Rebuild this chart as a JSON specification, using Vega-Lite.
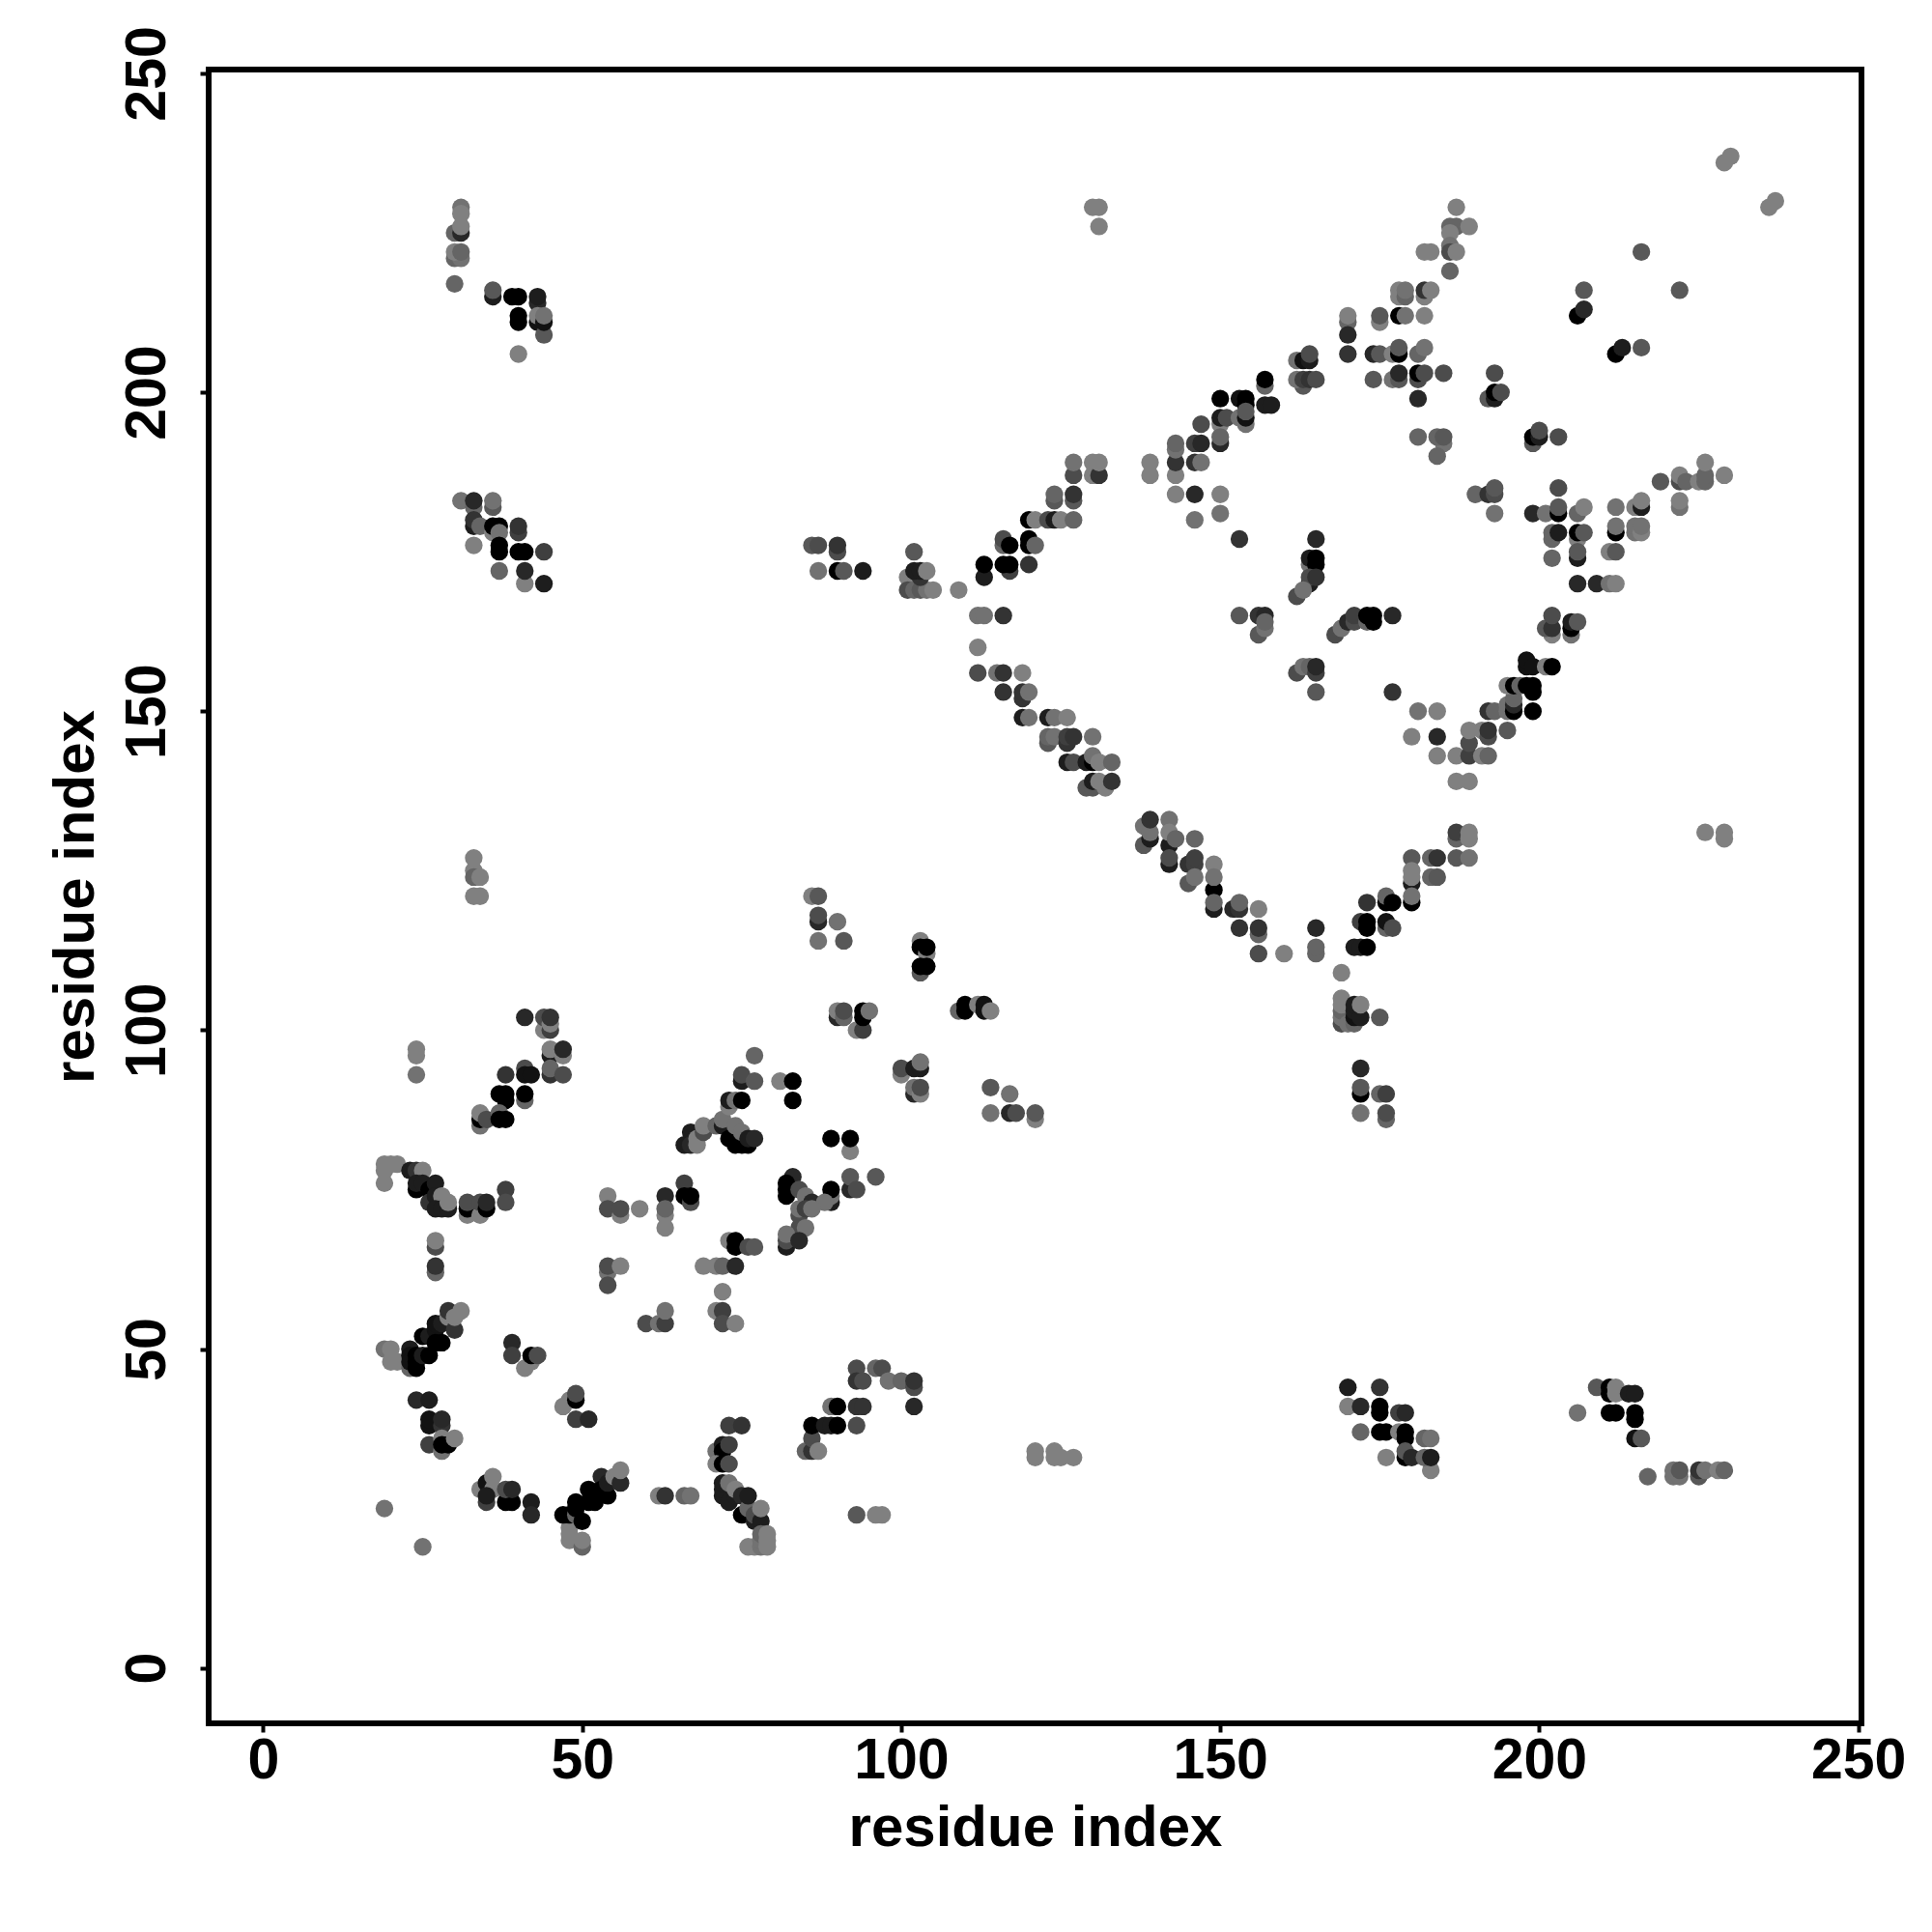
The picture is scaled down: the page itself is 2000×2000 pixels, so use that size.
{"$schema":"https://vega.github.io/schema/vega-lite/v6.json","width":1711,"height":1712,"autosize":{"type":"none"},"padding":{"left":216,"top":72,"right":73,"bottom":216},"background":"white","view":{"stroke":"#000000","strokeWidth":6,"fill":"white"},
"data":{"values":[
{"x":41,"y":102,"s":0.15},{"x":44,"y":100,"s":0.5},{"x":44,"y":102,"s":0.3},{"x":45,"y":100,"s":0.25},{"x":45,"y":101,"s":0.5},{"x":45,"y":102,"s":0.2},{"x":45,"y":96,"s":0.1},{"x":45,"y":97,"s":0.5},{"x":47,"y":96,"s":0.5},{"x":47,"y":97,"s":0.15},{"x":45,"y":93,"s":0.2},{"x":45,"y":94,"s":0.4},{"x":47,"y":93,"s":0.3},{"x":24,"y":97,"s":0.5},{"x":24,"y":96,"s":0.55},{"x":24,"y":93,"s":0.45},{"x":38,"y":93,"s":0.2},{"x":41,"y":94,"s":0.3},{"x":41,"y":93,"s":0.05},{"x":42,"y":93,"s":0.05},{"x":37,"y":90,"s":0},{"x":38,"y":90,"s":0},{"x":38,"y":89,"s":0},{"x":41,"y":89,"s":0.4},{"x":41,"y":90,"s":0},{"x":34,"y":85,"s":0.45},{"x":34,"y":86,"s":0},{"x":34,"y":87,"s":0.5},{"x":35,"y":86,"s":0.3},{"x":37,"y":87,"s":0.4},{"x":37,"y":86,"s":0},{"x":38,"y":86,"s":0},
{"x":19,"y":76,"s":0.5},{"x":19,"y":78,"s":0.5},{"x":19,"y":79,"s":0.5},{"x":20,"y":79,"s":0.5},{"x":21,"y":79,"s":0.5},{"x":23,"y":78,"s":0.1},{"x":24,"y":78,"s":0.2},{"x":25,"y":78,"s":0.5},{"x":24,"y":75,"s":0},{"x":24,"y":76,"s":0.1},{"x":25,"y":76,"s":0.1},{"x":26,"y":75,"s":0},{"x":26,"y":73,"s":0.2},{"x":27,"y":76,"s":0.1},{"x":27,"y":74,"s":0.1},{"x":28,"y":74,"s":0.5},{"x":27,"y":72,"s":0.1},{"x":28,"y":72,"s":0.1},{"x":29,"y":72,"s":0.1},{"x":29,"y":73,"s":0.5},{"x":32,"y":71,"s":0.5},{"x":32,"y":72,"s":0},{"x":32,"y":73,"s":0.3},{"x":34,"y":71,"s":0.5},{"x":34,"y":73,"s":0.3},{"x":35,"y":72,"s":0},{"x":35,"y":73,"s":0.15},{"x":38,"y":75,"s":0.25},{"x":38,"y":73,"s":0.3},{"x":27,"y":66,"s":0.3},{"x":27,"y":67,"s":0.5},{"x":27,"y":62,"s":0.4},{"x":27,"y":63,"s":0.2},
{"x":54,"y":74,"s":0.5},{"x":54,"y":72,"s":0.3},{"x":56,"y":71,"s":0.5},{"x":56,"y":72,"s":0.3},{"x":59,"y":72,"s":0.5},{"x":63,"y":74,"s":0.15},{"x":63,"y":69,"s":0.5},{"x":63,"y":71,"s":0.5},{"x":63,"y":72,"s":0.4},{"x":66,"y":76,"s":0.25},{"x":66,"y":74,"s":0},{"x":67,"y":73,"s":0.3},{"x":67,"y":74,"s":0},{"x":73,"y":67,"s":0.5},{"x":74,"y":66,"s":0},{"x":74,"y":67,"s":0},{"x":76,"y":66,"s":0.3},{"x":69,"y":63,"s":0.5},{"x":71,"y":63,"s":0.5},{"x":72,"y":63,"s":0.4},{"x":74,"y":63,"s":0.15},{"x":72,"y":59,"s":0.5},{"x":71,"y":56,"s":0.5},{"x":72,"y":56,"s":0.25},{"x":72,"y":54,"s":0.3},{"x":74,"y":54,"s":0.5},{"x":54,"y":62,"s":0.45},{"x":54,"y":63,"s":0.3},{"x":56,"y":63,"s":0.5},{"x":54,"y":60,"s":0.3},{"x":60,"y":54,"s":0.3},{"x":62,"y":54,"s":0.45},{"x":63,"y":54,"s":0.25},{"x":63,"y":56,"s":0.45},
{"x":19,"y":50,"s":0.45},{"x":20,"y":50,"s":0.5},{"x":20,"y":48,"s":0.5},{"x":21,"y":48,"s":0.5},{"x":23,"y":47,"s":0.4},{"x":23,"y":50,"s":0.1},{"x":23,"y":49,"s":0.05},{"x":23,"y":48,"s":0.05},{"x":24,"y":49,"s":0},{"x":24,"y":48,"s":0},{"x":24,"y":47,"s":0},{"x":25,"y":52,"s":0},{"x":25,"y":49,"s":0.1},{"x":26,"y":49,"s":0},{"x":26,"y":52,"s":0.1},{"x":27,"y":53,"s":0.05},{"x":27,"y":51,"s":0},{"x":27,"y":54,"s":0.05},{"x":28,"y":51,"s":0},{"x":28,"y":54,"s":0.1},{"x":29,"y":55,"s":0.5},{"x":29,"y":56,"s":0.2},{"x":30,"y":53,"s":0.2},{"x":30,"y":55,"s":0.5},{"x":31,"y":56,"s":0.5},{"x":39,"y":51,"s":0.15},{"x":39,"y":49,"s":0.25},{"x":41,"y":47,"s":0.5},{"x":42,"y":48,"s":0.5},{"x":42,"y":49,"s":0},{"x":43,"y":49,"s":0.3},
{"x":24,"y":42,"s":0.15},{"x":26,"y":42,"s":0.1},{"x":26,"y":38,"s":0.05},{"x":26,"y":39,"s":0.05},{"x":28,"y":38,"s":0.2},{"x":28,"y":39,"s":0.15},{"x":26,"y":35,"s":0.25},{"x":28,"y":34,"s":0.45},{"x":28,"y":36,"s":0.5},{"x":28,"y":35,"s":0},{"x":29,"y":35,"s":0},{"x":30,"y":36,"s":0.5},{"x":47,"y":41,"s":0.5},{"x":48,"y":42,"s":0.5},{"x":49,"y":42,"s":0},{"x":49,"y":43,"s":0.3},{"x":49,"y":39,"s":0.25},{"x":51,"y":39,"s":0.15},
{"x":34,"y":28,"s":0.5},{"x":35,"y":29,"s":0.05},{"x":36,"y":28,"s":0.5},{"x":36,"y":30,"s":0.5},{"x":35,"y":26,"s":0.25},{"x":35,"y":27,"s":0.1},{"x":38,"y":26,"s":0},{"x":39,"y":26,"s":0},{"x":38,"y":28,"s":0.3},{"x":39,"y":28,"s":0.15},{"x":42,"y":26,"s":0.1},{"x":42,"y":24,"s":0.15},{"x":19,"y":25,"s":0.45},{"x":25,"y":19,"s":0.45},
{"x":48,"y":22,"s":0.5},{"x":48,"y":21,"s":0.5},{"x":48,"y":20,"s":0.5},{"x":50,"y":19,"s":0.4},{"x":50,"y":20,"s":0.5},{"x":47,"y":24,"s":0},{"x":48,"y":24,"s":0},{"x":49,"y":24,"s":0.4},{"x":49,"y":25,"s":0},{"x":49,"y":26,"s":0},{"x":50,"y":23,"s":0},{"x":51,"y":28,"s":0},{"x":51,"y":26,"s":0},{"x":52,"y":26,"s":0},{"x":53,"y":30,"s":0.15},{"x":53,"y":28,"s":0},{"x":54,"y":27,"s":0},{"x":54,"y":29,"s":0.1},{"x":55,"y":30,"s":0.5},{"x":56,"y":29,"s":0.15},{"x":56,"y":31,"s":0.5},
{"x":62,"y":27,"s":0.5},{"x":63,"y":27,"s":0.2},{"x":66,"y":27,"s":0.4},{"x":67,"y":27,"s":0.45},{"x":73,"y":38,"s":0.25},{"x":75,"y":38,"s":0.2},{"x":71,"y":34,"s":0.45},{"x":72,"y":35,"s":0.1},{"x":72,"y":34,"s":0},{"x":73,"y":35,"s":0.25},{"x":71,"y":32,"s":0.5},{"x":72,"y":32,"s":0},{"x":73,"y":32,"s":0.3},{"x":72,"y":27,"s":0.1},{"x":72,"y":28,"s":0.1},{"x":72,"y":29,"s":0.1},{"x":73,"y":26,"s":0.1},{"x":73,"y":29,"s":0.45},{"x":74,"y":27,"s":0.1},{"x":74,"y":28,"s":0.5},{"x":75,"y":24,"s":0},{"x":75,"y":27,"s":0.15},{"x":76,"y":25,"s":0.4},{"x":76,"y":27,"s":0.1},{"x":77,"y":23,"s":0.1},{"x":77,"y":24,"s":0.3},{"x":78,"y":23,"s":0.1},{"x":78,"y":25,"s":0.5},{"x":76,"y":19,"s":0.5},{"x":77,"y":19,"s":0.5},{"x":78,"y":19,"s":0.45},{"x":78,"y":20,"s":0.45},{"x":78,"y":21,"s":0.4},{"x":79,"y":19,"s":0.5},{"x":79,"y":20,"s":0.5},{"x":79,"y":21,"s":0.5},
{"x":85,"y":34,"s":0.4},{"x":86,"y":34,"s":0.2},{"x":86,"y":36,"s":0.3},{"x":86,"y":38,"s":0},{"x":87,"y":34,"s":0.5},{"x":88,"y":38,"s":0.1},{"x":89,"y":38,"s":0.1},{"x":89,"y":41,"s":0.45},{"x":90,"y":38,"s":0},{"x":90,"y":41,"s":0},{"x":93,"y":38,"s":0.3},{"x":93,"y":47,"s":0.3},{"x":93,"y":45,"s":0.2},{"x":94,"y":45,"s":0.3},{"x":93,"y":41,"s":0.2},{"x":94,"y":41,"s":0.2},{"x":96,"y":47,"s":0.4},{"x":97,"y":47,"s":0.3},{"x":98,"y":45,"s":0.45},{"x":100,"y":45,"s":0.4},{"x":102,"y":44,"s":0.3},{"x":102,"y":45,"s":0.2},{"x":102,"y":41,"s":0.15},{"x":93,"y":24,"s":0.35},{"x":96,"y":24,"s":0.5},{"x":97,"y":24,"s":0.5},{"x":121,"y":33,"s":0.5},{"x":121,"y":34,"s":0.5},{"x":124,"y":33,"s":0.5},{"x":124,"y":34,"s":0.5},{"x":125,"y":33,"s":0.5},{"x":127,"y":33,"s":0.5},
{"x":66,"y":82,"s":0.1},{"x":67,"y":84,"s":0.1},{"x":67,"y":82,"s":0.15},{"x":68,"y":83,"s":0.5},{"x":68,"y":82,"s":0.5},{"x":69,"y":84,"s":0.3},{"x":69,"y":85,"s":0.5},{"x":71,"y":85,"s":0.4},{"x":72,"y":85,"s":0.1},{"x":72,"y":86,"s":0.45},{"x":73,"y":83,"s":0},{"x":73,"y":88,"s":0.5},{"x":73,"y":89,"s":0.1},{"x":74,"y":89,"s":0.45},{"x":75,"y":89,"s":0},{"x":74,"y":82,"s":0},{"x":75,"y":82,"s":0},{"x":76,"y":82,"s":0},{"x":74,"y":85,"s":0.45},{"x":75,"y":84,"s":0.45},{"x":76,"y":83,"s":0.1},{"x":77,"y":83,"s":0.15},{"x":75,"y":92,"s":0.1},{"x":75,"y":93,"s":0.3},{"x":77,"y":92,"s":0.35},{"x":77,"y":96,"s":0.4},{"x":81,"y":92,"s":0.5},{"x":83,"y":92,"s":0},{"x":83,"y":89,"s":0},{"x":89,"y":83,"s":0},{"x":92,"y":81,"s":0.5},{"x":92,"y":83,"s":0},
{"x":86,"y":121,"s":0.5},{"x":87,"y":121,"s":0.35},{"x":87,"y":117,"s":0.15},{"x":87,"y":118,"s":0.3},{"x":90,"y":117,"s":0.45},{"x":87,"y":114,"s":0.45},{"x":91,"y":114,"s":0.35},{"x":103,"y":114,"s":0.5},{"x":103,"y":113,"s":0},{"x":104,"y":112,"s":0.5},{"x":104,"y":113,"s":0},{"x":103,"y":109,"s":0.35},{"x":103,"y":110,"s":0},{"x":104,"y":110,"s":0},{"x":90,"y":102,"s":0.15},{"x":90,"y":103,"s":0.5},{"x":91,"y":102,"s":0.4},{"x":91,"y":103,"s":0.3},{"x":93,"y":100,"s":0.5},{"x":94,"y":100,"s":0.25},{"x":94,"y":102,"s":0},{"x":94,"y":103,"s":0},{"x":95,"y":103,"s":0.45},{"x":109,"y":103,"s":0.4},{"x":110,"y":103,"s":0},{"x":110,"y":104,"s":0},{"x":112,"y":104,"s":0.5},{"x":113,"y":103,"s":0.05},{"x":113,"y":104,"s":0.05},{"x":114,"y":103,"s":0.5},
{"x":100,"y":93,"s":0.5},{"x":100,"y":94,"s":0.3},{"x":102,"y":94,"s":0.1},{"x":103,"y":94,"s":0.1},{"x":103,"y":95,"s":0.45},{"x":102,"y":90,"s":0.15},{"x":102,"y":91,"s":0.45},{"x":103,"y":90,"s":0.5},{"x":103,"y":91,"s":0.3},{"x":114,"y":91,"s":0.35},{"x":117,"y":90,"s":0.45},{"x":114,"y":87,"s":0.45},{"x":117,"y":87,"s":0.15},{"x":118,"y":87,"s":0.3},{"x":121,"y":86,"s":0.5},{"x":121,"y":87,"s":0.35},
{"x":92,"y":75,"s":0.15},{"x":92,"y":77,"s":0.35},{"x":93,"y":75,"s":0.3},{"x":96,"y":77,"s":0.35},{"x":89,"y":73,"s":0.1},{"x":89,"y":74,"s":0.45},{"x":89,"y":75,"s":0},{"x":83,"y":77,"s":0.15},{"x":82,"y":74,"s":0},{"x":82,"y":75,"s":0},{"x":82,"y":76,"s":0},{"x":84,"y":75,"s":0.3},{"x":85,"y":74,"s":0.45},{"x":86,"y":73,"s":0.15},{"x":88,"y":73,"s":0.45},{"x":84,"y":71,"s":0.3},{"x":84,"y":72,"s":0.45},{"x":85,"y":72,"s":0.25},{"x":86,"y":72,"s":0.45},{"x":84,"y":69,"s":0.3},{"x":85,"y":69,"s":0.45},{"x":82,"y":66,"s":0.1},{"x":82,"y":67,"s":0.3},{"x":82,"y":68,"s":0.45},{"x":84,"y":67,"s":0.15},{"x":77,"y":66,"s":0.35},
{"x":31,"y":229,"s":0.45},{"x":31,"y":228,"s":0.5},{"x":30,"y":225,"s":0.4},{"x":31,"y":225,"s":0.15},{"x":31,"y":226,"s":0.5},{"x":30,"y":221,"s":0.4},{"x":31,"y":221,"s":0.45},{"x":30,"y":222,"s":0.5},{"x":31,"y":222,"s":0.4},{"x":30,"y":217,"s":0.4},{"x":36,"y":215,"s":0.1},{"x":36,"y":216,"s":0.35},{"x":39,"y":215,"s":0},{"x":40,"y":215,"s":0},{"x":43,"y":214,"s":0.15},{"x":43,"y":215,"s":0.1},{"x":40,"y":211,"s":0},{"x":40,"y":212,"s":0},{"x":43,"y":211,"s":0.05},{"x":43,"y":212,"s":0.5},{"x":44,"y":209,"s":0.35},{"x":44,"y":211,"s":0.05},{"x":44,"y":212,"s":0.45},{"x":40,"y":206,"s":0.5},
{"x":31,"y":183,"s":0.45},{"x":33,"y":182,"s":0.4},{"x":33,"y":183,"s":0.15},{"x":36,"y":182,"s":0.35},{"x":36,"y":183,"s":0.45},{"x":33,"y":179,"s":0.1},{"x":33,"y":180,"s":0.2},{"x":34,"y":179,"s":0.4},{"x":36,"y":178,"s":0.5},{"x":36,"y":179,"s":0},{"x":37,"y":179,"s":0},{"x":37,"y":178,"s":0.45},{"x":40,"y":178,"s":0.25},{"x":40,"y":179,"s":0.2},{"x":33,"y":176,"s":0.5},{"x":37,"y":175,"s":0},{"x":37,"y":176,"s":0},{"x":40,"y":175,"s":0},{"x":41,"y":175,"s":0},{"x":44,"y":175,"s":0.25},{"x":37,"y":172,"s":0.4},{"x":41,"y":170,"s":0.5},{"x":41,"y":172,"s":0.15},{"x":44,"y":170,"s":0.1},{"x":33,"y":127,"s":0.5},{"x":33,"y":125,"s":0.5},{"x":33,"y":124,"s":0.4},{"x":34,"y":124,"s":0.5},{"x":33,"y":121,"s":0.5},{"x":34,"y":121,"s":0.5},{"x":130,"y":229,"s":0.5},{"x":131,"y":229,"s":0.5},{"x":131,"y":226,"s":0.5},
{"x":127,"y":187,"s":0.3},{"x":127,"y":189,"s":0.45},{"x":130,"y":187,"s":0.5},{"x":130,"y":189,"s":0.5},{"x":131,"y":187,"s":0.2},{"x":131,"y":189,"s":0.5},{"x":139,"y":187,"s":0.5},{"x":139,"y":189,"s":0.5},{"x":143,"y":187,"s":0.5},{"x":143,"y":189,"s":0.2},{"x":143,"y":191,"s":0.45},{"x":143,"y":192,"s":0.4},{"x":146,"y":189,"s":0.2},{"x":147,"y":189,"s":0.45},{"x":146,"y":192,"s":0.25},{"x":147,"y":192,"s":0.15},{"x":147,"y":195,"s":0.3},{"x":143,"y":184,"s":0.5},{"x":146,"y":184,"s":0.15},{"x":150,"y":184,"s":0.5},{"x":146,"y":180,"s":0.45},{"x":150,"y":181,"s":0.45},{"x":153,"y":177,"s":0.2},
{"x":124,"y":183,"s":0.35},{"x":124,"y":184,"s":0.4},{"x":127,"y":183,"s":0.35},{"x":127,"y":184,"s":0.2},{"x":120,"y":180,"s":0},{"x":121,"y":180,"s":0.5},{"x":123,"y":180,"s":0.3},{"x":124,"y":180,"s":0.1},{"x":125,"y":180,"s":0.5},{"x":127,"y":180,"s":0.4},{"x":116,"y":176,"s":0.4},{"x":116,"y":177,"s":0.3},{"x":117,"y":176,"s":0},{"x":120,"y":177,"s":0},{"x":120,"y":176,"s":0},{"x":121,"y":176,"s":0.4},{"x":113,"y":171,"s":0.1},{"x":113,"y":173,"s":0},{"x":117,"y":172,"s":0.25},{"x":116,"y":173,"s":0},{"x":117,"y":173,"s":0},{"x":120,"y":173,"s":0.2},
{"x":86,"y":176,"s":0.35},{"x":87,"y":176,"s":0.3},{"x":90,"y":175,"s":0.3},{"x":90,"y":176,"s":0.2},{"x":87,"y":172,"s":0.45},{"x":90,"y":172,"s":0},{"x":91,"y":172,"s":0.35},{"x":94,"y":172,"s":0.1},{"x":102,"y":175,"s":0.35},{"x":101,"y":171,"s":0.5},{"x":101,"y":169,"s":0.3},{"x":102,"y":169,"s":0.4},{"x":103,"y":169,"s":0.35},{"x":104,"y":169,"s":0.45},{"x":105,"y":169,"s":0.5},{"x":103,"y":171,"s":0.2},{"x":102,"y":172,"s":0.1},{"x":103,"y":172,"s":0.1},{"x":104,"y":172,"s":0.5},{"x":109,"y":169,"s":0.5},{"x":112,"y":165,"s":0.45},{"x":113,"y":165,"s":0.45},{"x":116,"y":165,"s":0.2},{"x":112,"y":160,"s":0.5},
{"x":112,"y":156,"s":0.3},{"x":115,"y":156,"s":0.45},{"x":116,"y":156,"s":0.2},{"x":119,"y":156,"s":0.5},{"x":116,"y":153,"s":0.2},{"x":119,"y":152,"s":0.2},{"x":119,"y":153,"s":0.2},{"x":120,"y":153,"s":0.45},{"x":119,"y":149,"s":0.1},{"x":120,"y":149,"s":0.45},{"x":123,"y":149,"s":0.1},{"x":124,"y":149,"s":0.45},{"x":126,"y":149,"s":0.5},{"x":123,"y":145,"s":0.35},{"x":123,"y":146,"s":0.4},{"x":124,"y":146,"s":0.45},{"x":126,"y":145,"s":0.2},{"x":126,"y":146,"s":0.25},{"x":127,"y":146,"s":0.2},{"x":130,"y":146,"s":0.45},{"x":126,"y":142,"s":0.1},{"x":127,"y":142,"s":0.3},{"x":129,"y":142,"s":0.1},{"x":130,"y":142,"s":0},{"x":130,"y":143,"s":0.45},{"x":131,"y":142,"s":0.5},{"x":133,"y":142,"s":0.4},{"x":129,"y":138,"s":0.35},{"x":130,"y":138,"s":0.35},{"x":130,"y":139,"s":0.1},{"x":131,"y":139,"s":0.5},{"x":132,"y":138,"s":0.5},{"x":133,"y":139,"s":0.2},
{"x":138,"y":129,"s":0.35},{"x":138,"y":132,"s":0.45},{"x":139,"y":130,"s":0.1},{"x":139,"y":131,"s":0.45},{"x":139,"y":133,"s":0.2},{"x":142,"y":133,"s":0.45},{"x":142,"y":129,"s":0.1},{"x":142,"y":131,"s":0.5},{"x":143,"y":130,"s":0.4},{"x":146,"y":130,"s":0.4},{"x":142,"y":126,"s":0.1},{"x":142,"y":127,"s":0.3},{"x":145,"y":126,"s":0.2},{"x":146,"y":126,"s":0.25},{"x":146,"y":127,"s":0.25},{"x":145,"y":123,"s":0.35},{"x":146,"y":124,"s":0.45},{"x":149,"y":126,"s":0.5},{"x":149,"y":122,"s":0},{"x":149,"y":124,"s":0.45},{"x":149,"y":119,"s":0.1},{"x":149,"y":120,"s":0.4},{"x":152,"y":119,"s":0.15},{"x":153,"y":119,"s":0.2},{"x":153,"y":120,"s":0.4},{"x":156,"y":119,"s":0.5},{"x":153,"y":116,"s":0.2},{"x":156,"y":115,"s":0.4},{"x":156,"y":116,"s":0.2},{"x":156,"y":112,"s":0.3},{"x":160,"y":112,"s":0.5},
{"x":153,"y":165,"s":0.35},{"x":156,"y":165,"s":0.2},{"x":157,"y":165,"s":0.15},{"x":156,"y":162,"s":0.35},{"x":157,"y":163,"s":0.45},{"x":157,"y":164,"s":0.4},
{"x":165,"y":177,"s":0.15},{"x":164,"y":173,"s":0.45},{"x":164,"y":174,"s":0.1},{"x":165,"y":173,"s":0},{"x":165,"y":174,"s":0},{"x":164,"y":170,"s":0.1},{"x":164,"y":171,"s":0.3},{"x":165,"y":171,"s":0.2},{"x":162,"y":168,"s":0.3},{"x":163,"y":169,"s":0.45},
{"x":168,"y":162,"s":0.3},{"x":169,"y":163,"s":0.45},{"x":170,"y":164,"s":0.15},{"x":171,"y":164,"s":0.3},{"x":171,"y":165,"s":0.25},{"x":173,"y":164,"s":0.4},{"x":173,"y":165,"s":0},{"x":174,"y":164,"s":0},{"x":174,"y":165,"s":0},{"x":177,"y":165,"s":0.15},{"x":162,"y":156,"s":0.3},{"x":163,"y":157,"s":0.45},{"x":164,"y":157,"s":0.4},{"x":165,"y":156,"s":0.25},{"x":165,"y":157,"s":0.15},{"x":165,"y":153,"s":0.35},{"x":177,"y":153,"s":0.2},
{"x":181,"y":150,"s":0.45},{"x":184,"y":150,"s":0.5},{"x":180,"y":146,"s":0.5},{"x":184,"y":146,"s":0.15},{"x":184,"y":143,"s":0.5},{"x":187,"y":143,"s":0.5},{"x":189,"y":143,"s":0.25},{"x":191,"y":143,"s":0.5},{"x":192,"y":143,"s":0.4},{"x":187,"y":139,"s":0.5},{"x":189,"y":139,"s":0.5},{"x":189,"y":145,"s":0.3},{"x":189,"y":147,"s":0.5},{"x":191,"y":147,"s":0.5},{"x":192,"y":146,"s":0.3},{"x":192,"y":147,"s":0.2},{"x":195,"y":147,"s":0.35},{"x":192,"y":150,"s":0.2},{"x":193,"y":150,"s":0.4},{"x":195,"y":150,"s":0.45},{"x":195,"y":151,"s":0.45},{"x":196,"y":150,"s":0},{"x":196,"y":151,"s":0.15},{"x":199,"y":150,"s":0},{"x":196,"y":152,"s":0.4},{"x":195,"y":154,"s":0.5},{"x":196,"y":154,"s":0},{"x":197,"y":154,"s":0.4},{"x":198,"y":154,"s":0},{"x":199,"y":153,"s":0},{"x":199,"y":154,"s":0},{"x":198,"y":157,"s":0.05},{"x":198,"y":158,"s":0.05},{"x":199,"y":157,"s":0.05},{"x":201,"y":157,"s":0.5},{"x":202,"y":157,"s":0},
{"x":202,"y":162,"s":0.5},{"x":201,"y":163,"s":0.35},{"x":202,"y":163,"s":0.2},{"x":202,"y":165,"s":0.3},{"x":205,"y":162,"s":0.45},{"x":205,"y":163,"s":0},{"x":205,"y":164,"s":0.1},{"x":206,"y":164,"s":0.35},
{"x":199,"y":181,"s":0.15},{"x":201,"y":181,"s":0.45},{"x":203,"y":181,"s":0},{"x":203,"y":182,"s":0.35},{"x":206,"y":181,"s":0.4},{"x":207,"y":182,"s":0.5},{"x":203,"y":185,"s":0.3},{"x":202,"y":177,"s":0.4},{"x":202,"y":178,"s":0.4},{"x":203,"y":178,"s":0.1},{"x":202,"y":174,"s":0.4},{"x":206,"y":177,"s":0.5},{"x":206,"y":178,"s":0},{"x":207,"y":178,"s":0.35},{"x":206,"y":174,"s":0.1},{"x":206,"y":175,"s":0.35},{"x":206,"y":170,"s":0.15},{"x":209,"y":170,"s":0.15},{"x":211,"y":170,"s":0.45},{"x":212,"y":170,"s":0.5},
{"x":212,"y":182,"s":0.45},{"x":215,"y":182,"s":0.5},{"x":216,"y":182,"s":0.1},{"x":216,"y":183,"s":0.5},{"x":212,"y":178,"s":0},{"x":212,"y":179,"s":0.45},{"x":215,"y":178,"s":0.45},{"x":215,"y":179,"s":0.45},{"x":216,"y":178,"s":0.5},{"x":216,"y":179,"s":0.45},{"x":211,"y":175,"s":0.5},{"x":212,"y":175,"s":0.35},{"x":222,"y":182,"s":0.45},{"x":222,"y":183,"s":0.5},
{"x":190,"y":184,"s":0.4},{"x":192,"y":184,"s":0.2},{"x":193,"y":184,"s":0.3},{"x":193,"y":185,"s":0.35},{"x":193,"y":181,"s":0.45},{"x":226,"y":131,"s":0.5},{"x":229,"y":130,"s":0.5},{"x":229,"y":131,"s":0.5},
{"x":187,"y":130,"s":0.4},{"x":187,"y":131,"s":0.25},{"x":189,"y":130,"s":0.5},{"x":189,"y":131,"s":0.5},{"x":187,"y":127,"s":0.35},{"x":189,"y":127,"s":0.45},{"x":180,"y":127,"s":0.35},{"x":183,"y":127,"s":0.4},{"x":184,"y":127,"s":0.2},{"x":183,"y":124,"s":0.4},{"x":184,"y":124,"s":0.35},{"x":180,"y":123,"s":0.1},{"x":180,"y":124,"s":0.5},{"x":180,"y":125,"s":0.5},{"x":180,"y":120,"s":0},{"x":180,"y":121,"s":0.45},{"x":173,"y":120,"s":0.2},{"x":176,"y":120,"s":0},{"x":176,"y":121,"s":0.4},{"x":177,"y":120,"s":0},{"x":172,"y":117,"s":0.25},{"x":173,"y":116,"s":0},{"x":173,"y":117,"s":0},{"x":176,"y":116,"s":0.4},{"x":176,"y":117,"s":0.05},{"x":177,"y":116,"s":0.3},{"x":171,"y":113,"s":0.1},{"x":172,"y":113,"s":0.1},{"x":173,"y":113,"s":0},{"x":165,"y":116,"s":0.15},{"x":165,"y":112,"s":0.4},{"x":165,"y":113,"s":0.4},
{"x":169,"y":109,"s":0.5},{"x":169,"y":101,"s":0.3},{"x":169,"y":102,"s":0.45},{"x":169,"y":103,"s":0.4},{"x":169,"y":104,"s":0.5},{"x":169,"y":105,"s":0.5},{"x":170,"y":101,"s":0.45},{"x":171,"y":101,"s":0.4},{"x":171,"y":102,"s":0.05},{"x":171,"y":103,"s":0.1},{"x":171,"y":104,"s":0.1},{"x":172,"y":102,"s":0.1},{"x":172,"y":104,"s":0.5},{"x":175,"y":102,"s":0.35},{"x":172,"y":94,"s":0.15},{"x":172,"y":90,"s":0},{"x":172,"y":91,"s":0.35},{"x":175,"y":90,"s":0.4},{"x":176,"y":90,"s":0.25},{"x":172,"y":87,"s":0.45},{"x":176,"y":86,"s":0.4},{"x":176,"y":87,"s":0.3},
{"x":229,"y":236,"s":0.5},{"x":230,"y":237,"s":0.5},{"x":236,"y":229,"s":0.5},{"x":237,"y":230,"s":0.5},{"x":187,"y":229,"s":0.5},{"x":186,"y":226,"s":0.4},{"x":187,"y":226,"s":0.4},{"x":189,"y":226,"s":0.5},{"x":186,"y":225,"s":0.5},{"x":186,"y":223,"s":0.45},{"x":186,"y":222,"s":0.3},{"x":187,"y":222,"s":0.5},{"x":182,"y":222,"s":0.5},{"x":183,"y":222,"s":0.5},{"x":186,"y":219,"s":0.4},{"x":216,"y":222,"s":0.35},{"x":207,"y":216,"s":0.35},{"x":222,"y":216,"s":0.35},{"x":206,"y":212,"s":0},{"x":207,"y":213,"s":0.15},{"x":212,"y":206,"s":0},{"x":213,"y":207,"s":0.1},{"x":216,"y":207,"s":0.35},
{"x":178,"y":215,"s":0.5},{"x":178,"y":216,"s":0.5},{"x":179,"y":215,"s":0.4},{"x":179,"y":216,"s":0.45},{"x":182,"y":215,"s":0.5},{"x":182,"y":216,"s":0.2},{"x":183,"y":216,"s":0.5},{"x":170,"y":211,"s":0.4},{"x":170,"y":212,"s":0.5},{"x":170,"y":209,"s":0.15},{"x":170,"y":206,"s":0.2},{"x":175,"y":211,"s":0.5},{"x":175,"y":212,"s":0.35},{"x":178,"y":212,"s":0},{"x":179,"y":212,"s":0.45},{"x":182,"y":212,"s":0.5},{"x":174,"y":206,"s":0.15},{"x":175,"y":206,"s":0.35},{"x":177,"y":206,"s":0.5},{"x":178,"y":206,"s":0},{"x":178,"y":207,"s":0.35},{"x":181,"y":206,"s":0.4},{"x":182,"y":207,"s":0.45},{"x":174,"y":202,"s":0.35},{"x":177,"y":202,"s":0.45},{"x":178,"y":202,"s":0.35},{"x":178,"y":203,"s":0.15},{"x":181,"y":202,"s":0.3},{"x":181,"y":203,"s":0},{"x":182,"y":203,"s":0.3},{"x":185,"y":203,"s":0.3},{"x":181,"y":199,"s":0.15},
{"x":193,"y":203,"s":0.3},{"x":192,"y":199,"s":0.35},{"x":193,"y":199,"s":0.1},{"x":193,"y":200,"s":0},{"x":194,"y":200,"s":0.3},{"x":181,"y":193,"s":0.4},{"x":185,"y":192,"s":0.45},{"x":184,"y":193,"s":0.4},{"x":185,"y":193,"s":0.35},{"x":184,"y":190,"s":0.4},{"x":199,"y":192,"s":0.35},{"x":199,"y":193,"s":0},{"x":200,"y":193,"s":0.1},{"x":200,"y":194,"s":0.3},{"x":203,"y":193,"s":0.3},
{"x":162,"y":205,"s":0.45},{"x":163,"y":205,"s":0.05},{"x":164,"y":205,"s":0.1},{"x":164,"y":206,"s":0.3},{"x":163,"y":201,"s":0.35},{"x":162,"y":202,"s":0.45},{"x":163,"y":202,"s":0.25},{"x":164,"y":202,"s":0.2},{"x":165,"y":202,"s":0.3},{"x":157,"y":201,"s":0.4},{"x":157,"y":202,"s":0},{"x":150,"y":199,"s":0},{"x":153,"y":199,"s":0.05},{"x":154,"y":198,"s":0},{"x":154,"y":199,"s":0},{"x":157,"y":198,"s":0.1},{"x":158,"y":198,"s":0.1},{"x":150,"y":195,"s":0.5},{"x":150,"y":196,"s":0.1},{"x":151,"y":196,"s":0.3},{"x":154,"y":195,"s":0.45},{"x":153,"y":196,"s":0.45},{"x":154,"y":196,"s":0.05},{"x":154,"y":197,"s":0.35},{"x":150,"y":192,"s":0.15},{"x":150,"y":193,"s":0.4},
{"x":219,"y":186,"s":0.35},{"x":222,"y":186,"s":0.3},{"x":222,"y":187,"s":0.5},{"x":223,"y":186,"s":0.4},{"x":225,"y":186,"s":0.5},{"x":226,"y":186,"s":0.4},{"x":226,"y":187,"s":0.4},{"x":226,"y":189,"s":0.5},{"x":229,"y":187,"s":0.5},
{"x":170,"y":44,"s":0.1},{"x":175,"y":44,"s":0.2},{"x":170,"y":41,"s":0.5},{"x":172,"y":41,"s":0.15},{"x":175,"y":40,"s":0},{"x":175,"y":41,"s":0},{"x":178,"y":40,"s":0.25},{"x":179,"y":40,"s":0.15},{"x":172,"y":37,"s":0.4},{"x":175,"y":37,"s":0},{"x":176,"y":37,"s":0},{"x":178,"y":37,"s":0.5},{"x":179,"y":36,"s":0},{"x":179,"y":37,"s":0},{"x":182,"y":36,"s":0.4},{"x":183,"y":36,"s":0.45},{"x":176,"y":33,"s":0.5},{"x":179,"y":33,"s":0},{"x":179,"y":34,"s":0.35},{"x":180,"y":33,"s":0.15},{"x":183,"y":31,"s":0.5},{"x":182,"y":33,"s":0.4},{"x":183,"y":33,"s":0.1},
{"x":209,"y":44,"s":0.35},{"x":211,"y":43,"s":0},{"x":211,"y":44,"s":0},{"x":212,"y":43,"s":0.5},{"x":212,"y":44,"s":0.5},{"x":214,"y":43,"s":0.1},{"x":215,"y":43,"s":0.1},{"x":206,"y":40,"s":0.45},{"x":211,"y":40,"s":0},{"x":212,"y":40,"s":0},{"x":215,"y":39,"s":0},{"x":215,"y":40,"s":0},{"x":215,"y":36,"s":0.05},{"x":216,"y":36,"s":0.35},{"x":217,"y":30,"s":0.4},{"x":221,"y":30,"s":0.45},{"x":221,"y":31,"s":0.45},{"x":222,"y":30,"s":0.45},{"x":222,"y":31,"s":0.35},{"x":225,"y":30,"s":0.35},{"x":225,"y":31,"s":0.2},{"x":226,"y":31,"s":0.45},{"x":228,"y":31,"s":0.5},{"x":229,"y":31,"s":0.4}
]},
"mark":{"type":"point","filled":true,"shape":"circle","size":335,"opacity":1,"stroke":null,"clip":true},
"encoding":{
"x":{"field":"x","type":"quantitative","scale":{"domain":[-8.55,250.5],"nice":false,"zero":false},"axis":{"title":"residue index","values":[0,50,100,150,200,250],"grid":false,"domain":false,"tickColor":"#000000","tickSize":9,"tickWidth":4,"labelFont":"Liberation Sans","labelFontWeight":"bold","labelFontSize":59,"labelColor":"#000000","labelPadding":0,"labelOverlap":false,"labelFlush":false,"titleFont":"Liberation Sans","titleFontWeight":"bold","titleFontSize":60,"titleColor":"#000000","titlePadding":11}},
"y":{"field":"y","type":"quantitative","scale":{"domain":[-8.68,250.6],"nice":false,"zero":false},"axis":{"title":"residue index","values":[0,50,100,150,200,250],"grid":false,"domain":false,"tickColor":"#000000","tickSize":9,"tickWidth":4,"labelFont":"Liberation Sans","labelFontWeight":"bold","labelFontSize":59,"labelColor":"#000000","labelAngle":-90,"labelAlign":"center","labelBaseline":"bottom","labelPadding":25,"labelOverlap":false,"labelFlush":false,"titleFont":"Liberation Sans","titleFontWeight":"bold","titleFontSize":60,"titleColor":"#000000","titlePadding":14}},
"color":{"field":"s","type":"quantitative","legend":null,"scale":{"domain":[0,0.5],"range":["#000000","#808080"],"clamp":true}}
},
"config":{"style":{"cell":{"stroke":"#000000","strokeWidth":6}}}
}
